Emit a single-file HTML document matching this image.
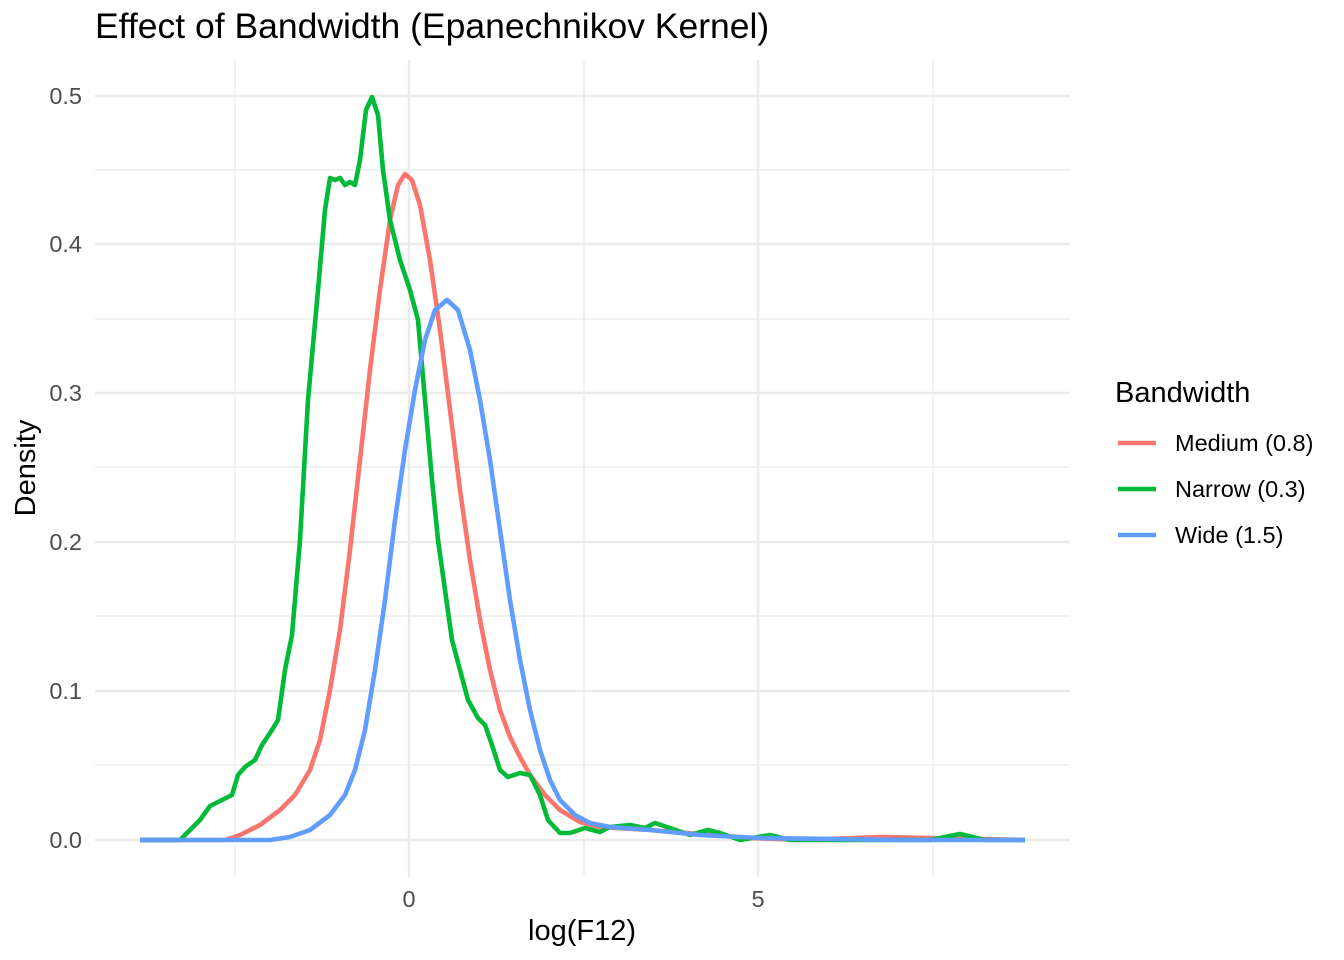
<!DOCTYPE html>
<html><head><style>body{margin:0;background:#fff}svg{display:block}text{font-family:"Liberation Sans",sans-serif}</style></head><body>
<svg width="1344" height="960" xmlns="http://www.w3.org/2000/svg">
<g stroke="#ebebeb" stroke-width="1.2">
<line x1="95" x2="1070" y1="765" y2="765"/><line x1="95" x2="1070" y1="616" y2="616"/><line x1="95" x2="1070" y1="467" y2="467"/><line x1="95" x2="1070" y1="319" y2="319"/><line x1="95" x2="1070" y1="170" y2="170"/>
<line x1="235" x2="235" y1="60" y2="877"/><line x1="584" x2="584" y1="60" y2="877"/><line x1="933" x2="933" y1="60" y2="877"/>
</g>
<g stroke="#ebebeb" stroke-width="2.4">
<line x1="95" x2="1070" y1="840" y2="840"/><line x1="95" x2="1070" y1="691" y2="691"/><line x1="95" x2="1070" y1="542" y2="542"/><line x1="95" x2="1070" y1="393" y2="393"/><line x1="95" x2="1070" y1="244" y2="244"/><line x1="95" x2="1070" y1="96" y2="96"/>
<line x1="409" x2="409" y1="60" y2="877"/><line x1="758" x2="758" y1="60" y2="877"/>
</g>
<g fill="none" stroke-width="4.6" stroke-linejoin="round">
<polyline stroke="#F8766D" points="140,840 225,840 240,835 260,825 280,810 295,795 310,770 320,740 330,690 340,630 350,550 360,460 370,370 380,290 390,220 398,185 405,174 412,180 420,205 430,260 440,330 450,410 460,490 470,560 480,620 490,670 500,710 510,737 520,757 530,775 545,795 560,810 580,822 600,827 650,830 700,834 750,838 800,840 880,837 930,838 1025,840"/>
<polyline stroke="#00BA38" points="140,840 180,840 190,830 200,820 210,806 222,800 232,795 238,775 245,767 255,760 262,745 272,730 278,720 285,670 292,635 300,540 308,400 318,290 325,210 330,178 335,180 340,178 345,185 350,182 355,185 360,160 366,110 372,97 378,115 383,170 390,220 400,260 410,290 418,320 425,400 432,480 438,540 445,590 452,640 460,670 468,700 478,718 485,725 492,745 500,770 508,777 520,773 530,775 540,795 548,820 560,833 570,833 585,828 600,832 610,827 630,825 645,828 655,823 670,828 690,835 708,830 720,833 740,840 770,835 790,840 930,840 960,834 985,840 1025,840"/>
<polyline stroke="#619CFF" points="140,840 270,840 290,837 310,830 330,815 345,795 355,770 365,730 375,670 385,600 395,520 405,450 415,390 425,340 435,310 447,300 458,310 470,350 480,400 490,460 500,530 510,600 520,660 530,710 540,750 550,780 560,800 575,815 590,823 610,827 650,830 700,835 760,838 900,840 1025,840"/>
</g>
<g fill="#4d4d4d" font-size="23.5" text-anchor="end">
<text x="82" y="848">0.0</text><text x="82" y="699">0.1</text><text x="82" y="550">0.2</text><text x="82" y="401">0.3</text><text x="82" y="252">0.4</text><text x="82" y="104">0.5</text>
</g>
<g fill="#4d4d4d" font-size="23.5" text-anchor="middle"><text x="409" y="907">0</text><text x="758" y="907">5</text></g>
<text x="582" y="940" font-size="29" text-anchor="middle">log(F12)</text>
<text transform="translate(35,468) rotate(-90)" font-size="29" text-anchor="middle">Density</text>
<text x="95" y="38" font-size="35.5">Effect of Bandwidth (Epanechnikov Kernel)</text>
<text x="1115" y="402" font-size="29">Bandwidth</text>
<g stroke-width="4.5"><line x1="1118" x2="1156" y1="443" y2="443" stroke="#F8766D"/><line x1="1118" x2="1156" y1="489" y2="489" stroke="#00BA38"/><line x1="1118" x2="1156" y1="535" y2="535" stroke="#619CFF"/></g>
<g font-size="23.5"><text x="1175" y="451">Medium (0.8)</text><text x="1175" y="497">Narrow (0.3)</text><text x="1175" y="543">Wide (1.5)</text></g>
</svg>
</body></html>
